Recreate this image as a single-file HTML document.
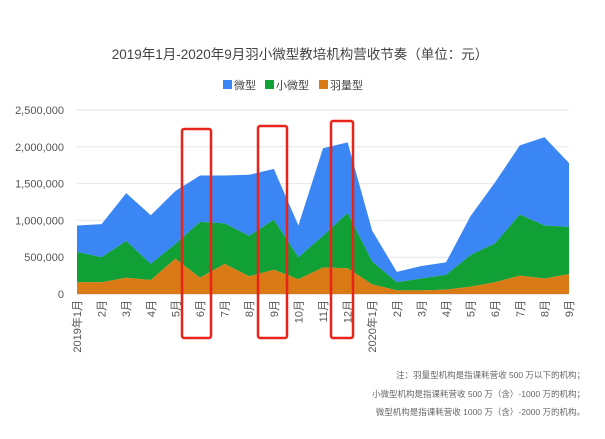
<!DOCTYPE html>
<html><head><meta charset="utf-8"><style>
body{margin:0;background:#fff;width:605px;height:434px;overflow:hidden;font-family:"Liberation Sans","Noto Sans CJK SC",sans-serif;}
svg text{font-family:"Liberation Sans","Noto Sans CJK SC",sans-serif;}
</style></head><body>
<svg id="chart" width="605" height="434" xmlns="http://www.w3.org/2000/svg">
<text x="300" y="59" text-anchor="middle" font-size="13.5" fill="#444">2019年1月-2020年9月羽小微型教培机构营收节奏（单位：元）</text>
<g font-size="11" fill="#444">
<rect x="223" y="80" width="9" height="9" fill="#3a86f5"/><text x="234" y="89">微型</text>
<rect x="265" y="80" width="9" height="9" fill="#10a035"/><text x="276" y="89">小微型</text>
<rect x="319" y="80" width="9" height="9" fill="#d97a16"/><text x="330" y="89">羽量型</text>
</g>
<g id="grid"></g><g id="areas"></g><g id="axes"></g>
<g fill="none" stroke="#e8231a" stroke-width="2.5">
<rect x="182" y="129" width="29" height="209" rx="2"/>
<rect x="258" y="126" width="29" height="212" rx="2"/>
<rect x="331" y="121" width="22" height="217" rx="2"/>
</g>
<g font-size="8.5" fill="#666" text-anchor="end">
<text x="585" y="378">注：羽量型机构是指课耗营收 500 万以下的机构；</text>
<text x="585" y="397">小微型机构是指课耗营收 500 万（含）-1000 万的机构；</text>
<text x="585" y="415">微型机构是指课耗营收 1000 万（含）-2000 万的机构。</text>
</g>
</svg>
<script>
const categories=["2019年1月","2月","3月","4月","5月","6月","7月","8月","9月","10月","11月","12月","2020年1月","2月","3月","4月","5月","6月","7月","8月","9月"];
const feather=[160000,160000,220000,190000,480000,220000,410000,240000,330000,200000,360000,350000,130000,50000,50000,60000,100000,160000,250000,210000,270000];
const small=[410000,340000,500000,220000,200000,760000,550000,550000,680000,300000,430000,750000,310000,110000,160000,200000,430000,530000,830000,720000,640000];
const micro=[360000,450000,650000,660000,720000,630000,650000,830000,690000,430000,1190000,960000,420000,140000,170000,170000,530000,830000,940000,1200000,870000];
const yTicks=[0,500000,1000000,1500000,2000000,2500000];
const yTickLabels=["0","500,000","1,000,000","1,500,000","2,000,000","2,500,000"];
const NS="http://www.w3.org/2000/svg";
const x0=77,x1=569,yB=294,yT=110,yMax=2500000;
const X=i=>x0+(x1-x0)*i/(categories.length-1);
const Y=v=>yB-(yB-yT)*v/yMax;
const grid=document.getElementById('grid'),areas=document.getElementById('areas'),axes=document.getElementById('axes');
yTicks.forEach((t,i)=>{
 const l=document.createElementNS(NS,'line');
 
 
 l.setAttribute('x1',x0);l.setAttribute('x2',x1);l.setAttribute('y1',Y(t));l.setAttribute('y2',Y(t));
 l.setAttribute('stroke',i==0?'#ccc':'#e6e6e6');grid.appendChild(l);
 const tx=document.createElementNS(NS,'text');
 
 
 tx.setAttribute('x',64);tx.setAttribute('y',Y(t)+4);tx.setAttribute('text-anchor','end');
 tx.setAttribute('font-size','11');tx.setAttribute('fill','#555');tx.textContent=yTickLabels[i];axes.appendChild(tx);
});
const c1=feather,c2=feather.map((v,i)=>v+small[i]),c3=c2.map((v,i)=>v+micro[i]);
function area(top,bot,color,name){
 let d='M'+top.map((v,i)=>X(i)+','+Y(v)).join('L');
 for(let i=bot.length-1;i>=0;i--)d+='L'+X(i)+','+Y(bot[i]);
 const p=document.createElementNS(NS,'path');
 
 
 p.setAttribute('d',d+'Z');p.setAttribute('fill',color);areas.appendChild(p);
}
const zero=categories.map(()=>0);
area(c3,c2,'#3a86f5','area-micro');
area(c2,c1,'#10a035','area-small');
area(c1,zero,'#d97a16','area-feather');
categories.forEach((c,i)=>{
 const tx=document.createElementNS(NS,'text');
 
 
 tx.setAttribute('transform','translate('+(X(i)+4)+',300) rotate(-90)');
 tx.setAttribute('text-anchor','end');tx.setAttribute('font-size','11');tx.setAttribute('fill','#555');
 tx.textContent=c;axes.appendChild(tx);
});
</script>
</body></html>
